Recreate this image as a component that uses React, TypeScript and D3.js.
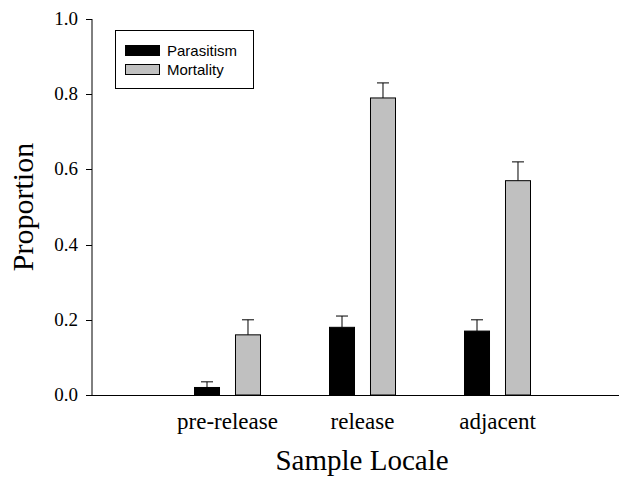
import React from "react";
import * as d3 from "d3";

const categories = ["pre-release", "release", "adjacent"];
const parasitism = [0.02, 0.18, 0.17];
const parasitismErr = [0.015, 0.03, 0.03];
const mortality = [0.16, 0.79, 0.57];
const mortalityErr = [0.04, 0.04, 0.05];
const yTicks = [0, 0.2, 0.4, 0.6, 0.8, 1.0];

const series = [
  { name: "Parasitism", values: parasitism, err: parasitismErr, fill: "#000000" },
  { name: "Mortality", values: mortality, err: mortalityErr, fill: "#c0c0c0" },
];

const W = 619;
const H = 480;
const left = 92;
const top = 19;
const bottom = 395;

export default function App() {
  const y = d3.scaleLinear().domain([0, 1]).range([bottom, top]);
  const x = d3.scaleBand().domain(categories).range([160, 565]);
  const inner = d3.scaleBand().domain(series.map(s => s.name)).range([-33, 33]).paddingInner(0.39);
  const serif = "'Liberation Serif', 'Times New Roman', serif";
  const sans = "'Liberation Sans', Arial, sans-serif";

  return (
    <svg width={W} height={H} style={{ position: "absolute", left: 0, top: 0 }}>
      {/* axes */}
      <line x1={left} x2={left} y1={top} y2={bottom} stroke="#000" />
      <line x1={left - 6} x2={W} y1={bottom + 0.5} y2={bottom + 0.5} stroke="#000" />
      {yTicks.map(t => (
        <g key={t}>
          <line x1={left - 6} x2={left} y1={Math.round(y(t)) + 0.5} y2={Math.round(y(t)) + 0.5} stroke="#000" />
          <text x={78} y={y(t) + 6} textAnchor="end" fontFamily={serif} fontSize={19}>
            {t.toFixed(1)}
          </text>
        </g>
      ))}

      {/* bars */}
      {categories.map((c, i) => (
        <g key={c} transform={`translate(${x(c)! + x.bandwidth() / 2},0)`}>
          {series.map(s => {
            const bx = inner(s.name)!;
            const bw = inner.bandwidth();
            const v = s.values[i];
            const e = s.err[i];
            const cx = bx + bw / 2;
            return (
              <g key={s.name}>
                <line x1={cx} x2={cx} y1={y(v)} y2={y(v + e)} stroke="#000" />
                <line x1={cx - 6} x2={cx + 6} y1={y(v + e)} y2={y(v + e)} stroke="#000" />
                <rect x={bx} y={y(v)} width={bw} height={y(0) - y(v)} fill={s.fill} stroke="#000" strokeWidth={1} />
              </g>
            );
          })}
          <text x={0} y={429} textAnchor="middle" fontFamily={serif} fontSize={23}>
            {c}
          </text>
        </g>
      ))}

      {/* legend */}
      <rect x={115.5} y={30.5} width={138} height={58} fill="#fff" stroke="#000" />
      {series.map((s, i) => (
        <g key={s.name} transform={`translate(0,${i * 19})`}>
          <rect x={125.5} y={45.5} width={34} height={10} fill={s.fill} stroke="#000" />
          <text x={167} y={55.5} fontFamily={sans} fontSize={15}>
            {s.name}
          </text>
        </g>
      ))}

      {/* axis titles */}
      <text x={362} y={470} textAnchor="middle" fontFamily={serif} fontSize={29}>
        Sample Locale
      </text>
      <text
        transform={`translate(33,${(top + bottom) / 2}) rotate(-90)`}
        textAnchor="middle"
        fontFamily={serif}
        fontSize={30}
      >
        Proportion
      </text>
    </svg>
  );
}
